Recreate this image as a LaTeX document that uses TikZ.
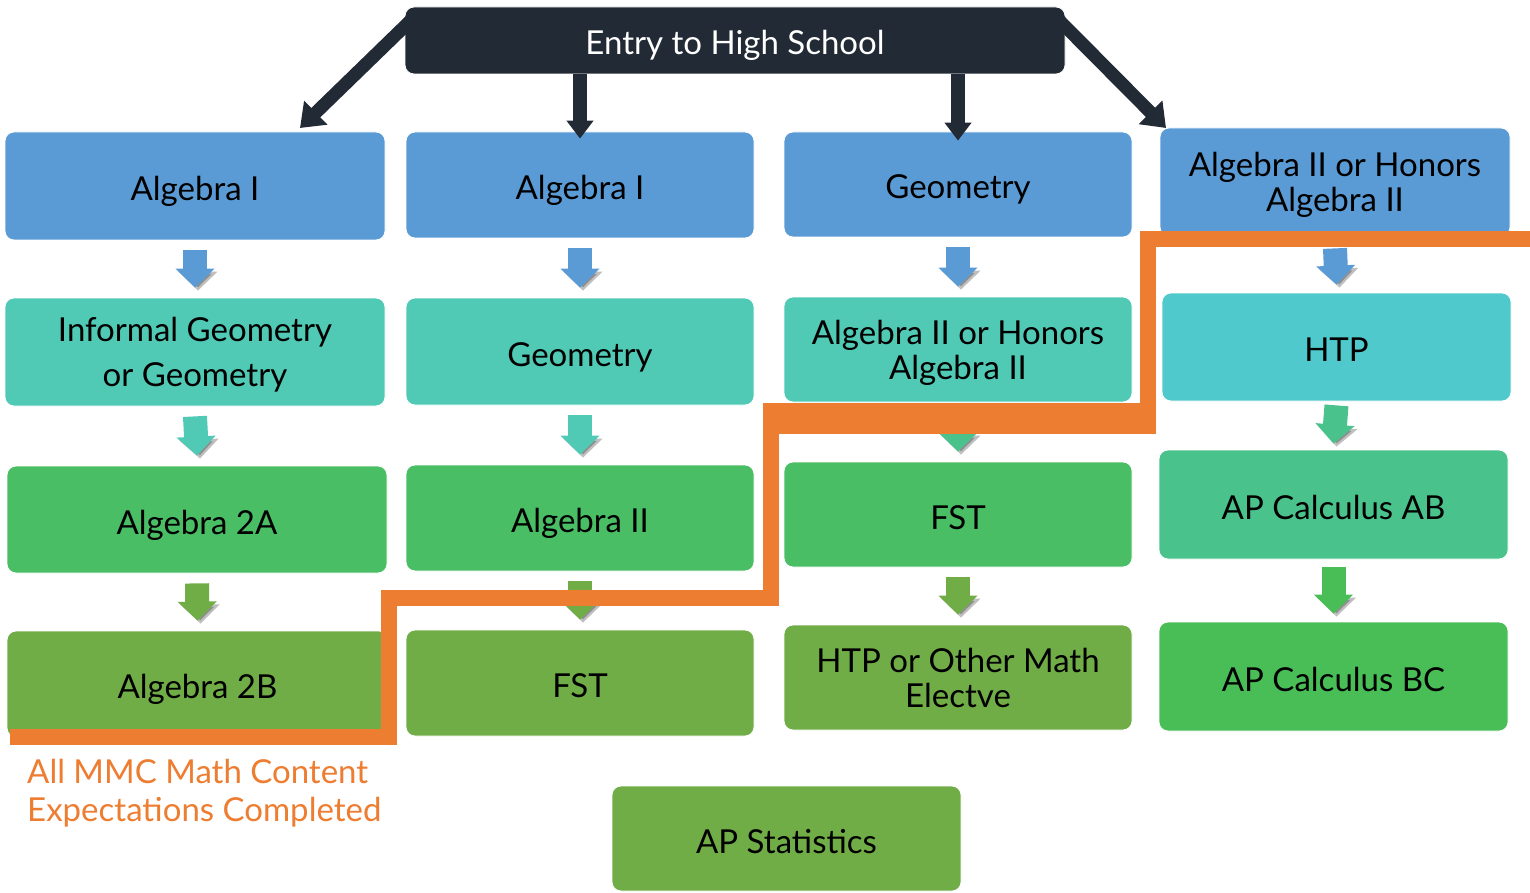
\documentclass[tikz,border=0pt]{standalone}
\usepackage{fontspec}
\setmainfont{Lato}
\usetikzlibrary{arrows.meta}
\definecolor{cblue}{HTML}{5B9BD5}
\definecolor{cteal}{HTML}{50C9B5}
\definecolor{ccyan}{HTML}{4FC9CB}
\definecolor{cgreen}{HTML}{4ABE64}
\definecolor{cabg}{HTML}{4AC28C}
\definecolor{cbcg}{HTML}{49BE57}
\definecolor{colive}{HTML}{70AD47}
\definecolor{cdark}{HTML}{222A35}
\definecolor{corange}{HTML}{ED7D31}
\tikzset{
  box/.style={fill=#1, draw=white, line width=0.8pt, rounded corners=9pt, align=center,
    font=\fontsize{33}{35}\selectfont, text=black, inner sep=0pt},
  one/.style={text height=29pt, text depth=0pt},
  bw/.style={minimum width=#1},
  bh/.style={minimum height=#1},
  blk/.style={draw=#1, line width=24pt, -{Triangle[length=19pt,width=38pt]},
    preaction={draw=black, opacity=0.25, transform canvas={xshift=3pt,yshift=-3pt}}},
  toparrow/.style={draw=cdark, line width=13pt, -{Triangle[length=22pt,width=32pt]}},
  midarrow/.style={draw=cdark, line width=14pt, -{Triangle[length=18pt,width=26pt]}},
  orangeline/.style={draw=corange, line width=16pt, line join=miter},
}
\begin{document}
\begin{tikzpicture}[x=1pt,y=-1pt]
\useasboundingbox (0,0) rectangle (1530,893);
% top box
\node[box=cdark, one, text=white, bw=660pt, bh=67pt] (entry) at (735,40.5) {Entry to High School};
% column 1
\node[box=cblue, one, bw=380pt, bh=108pt] (a1) at (195,186) {Algebra I};
\node[box=cteal, text depth=-1pt, bw=380pt, bh=108pt] (a2) at (195,352) {Informal Geometry\\[10pt]or Geometry};
\node[box=cgreen, one, bw=380pt, bh=107pt] (a3) at (197,519.5) {Algebra 2A};
\node[box=colive, one, bw=381pt, bh=106pt] (a4) at (197.5,684) {Algebra 2B};
% column 2
\node[box=cblue, one, bw=348pt, bh=106pt] (b1) at (580,185) {Algebra I};
\node[box=cteal, one, bw=348pt, bh=107pt] (b2) at (580,351.5) {Geometry};
\node[box=cgreen, one, bw=348pt, bh=106pt] (b3) at (580,518) {Algebra II};
\node[box=colive, one, bw=348pt, bh=106pt] (b4) at (580,683) {FST};
% column 3
\node[box=cblue, one, bw=348pt, bh=105pt] (c1) at (958,184.5) {Geometry};
\node[box=cteal, text depth=0pt, bw=348pt, bh=105pt] (c2) at (958,349.5) {Algebra II or Honors\\Algebra II};
\node[box=cgreen, one, bw=348pt, bh=105pt] (c3) at (958,514.5) {FST};
\node[box=colive, text depth=-7pt, bw=348pt, bh=105pt] (c4) at (958,677.5) {HTP or Other Math\\Electve};
% column 4
\node[box=cblue, text depth=0pt, bw=350pt, bh=108pt] (d1) at (1335,182) {Algebra II or Honors\\Algebra II};
\node[box=ccyan, one, bw=349pt, bh=108pt] (d2) at (1336.5,347) {HTP};
\node[box=cabg, one, bw=349pt, bh=109pt] (d3) at (1333.5,504.5) {AP Calculus AB};
\node[box=cbcg, one, bw=349pt, bh=109pt] (d4) at (1333.5,676.5) {AP Calculus BC};
% AP statistics
\node[box=colive, one, bw=349pt, bh=105pt] (stat) at (786.5,838.5) {AP Statistics};
% top arrows
\coordinate (tl) at (300,128);
\coordinate (tr) at (1166,128);
\draw[toparrow] ([shift={(6,14)}]entry.north west) -- (tl);
\draw[toparrow] ([shift={(-6,14)}]entry.north east) -- (tr);
\draw[midarrow] (entry.south -| b1.north) -- ([yshift=-7pt]b1.north);
\draw[midarrow] (entry.south -| c1.north) -- ([yshift=-9pt]c1.north);
% block arrows
\draw[blk=cblue] ([yshift=-10pt]a1.south) -- ([yshift=10pt]a2.north);
\draw[blk=cteal] ([yshift=-10pt]a2.south) -- ([yshift=10pt]a3.north);
\draw[blk=colive] ([yshift=-10pt]a3.south) -- ([yshift=10pt]a4.north);
\draw[blk=cblue] ([yshift=-10pt]b1.south) -- ([yshift=10pt]b2.north);
\draw[blk=cteal] ([yshift=-10pt]b2.south) -- ([yshift=10pt]b3.north);
\draw[blk=colive] ([yshift=-10pt]b3.south) -- ([yshift=10pt]b4.north);
\draw[blk=cblue] ([yshift=-10pt]c1.south) -- ([yshift=10pt]c2.north);
\draw[blk=cabg] ([yshift=-10pt]c2.south) -- ([yshift=10pt]c3.north);
\draw[blk=colive] ([yshift=-10pt]c3.south) -- ([yshift=10pt]c4.north);
\draw[blk=cblue] ([yshift=-12pt]d1.south) -- ([yshift=8pt]d2.north);
\draw[blk=cabg] ([yshift=-4pt]d2.south) -- ([yshift=6pt]d3.north);
\draw[blk=cbcg] ([yshift=-8pt]d3.south) -- ([yshift=8pt]d4.north);
% orange boundary
\coordinate (o0) at (10,737);
\coordinate (o1) at (389,737);
\coordinate (o2) at (389,598);
\coordinate (o3) at (771,598);
\coordinate (o4) at (771,418);
\coordinate (o5) at (1148,418);
\coordinate (o6) at (1148,239);
\coordinate (o7) at (1530,239);
\draw[orangeline] (o0) -- (o1) -- (o2) -- (o3) -- (o4) -- (o5) -- (o6) -- (o7);
\fill[corange] (763,403) rectangle (1156,434);
\node[anchor=north west, align=left, text=corange, font=\fontsize{33}{38}\selectfont, inner sep=0pt] (note) at (27,759) {All MMC Math Content\\Expectations Completed};
\end{tikzpicture}
\end{document}
